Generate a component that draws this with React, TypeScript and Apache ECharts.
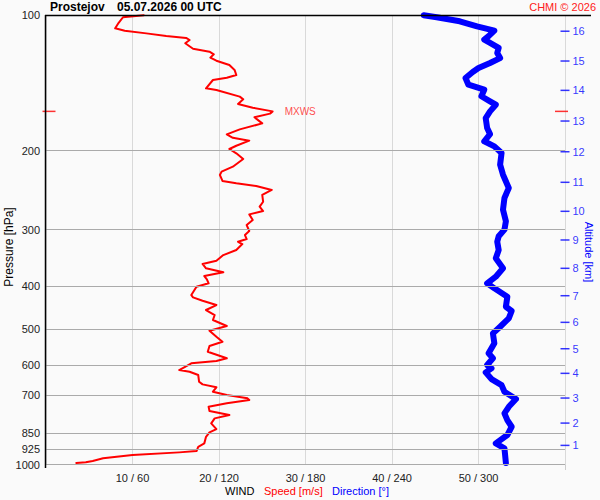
import React, { useEffect, useRef } from 'react';
import * as echarts from 'echarts';

const FONT = "'Liberation Sans', Arial, Helvetica, sans-serif";

// Pressure levels with grid lines and labels [hPa]
const pressureLevels = [100, 200, 300, 400, 500, 600, 700, 850, 925, 1000];

// Right axis: altitude ticks [km] and the pressure [hPa] where they sit
const altitudeKm = [1, 2, 3, 4, 5, 6, 7, 8, 9, 10, 11, 12, 13, 14, 15, 16];
const altitudePressure = [905.8, 808.0, 710.7, 626.2, 552.0, 482.2, 420.7, 365.6, 316.2, 273.0, 235.3, 201.2, 171.9, 146.9, 126.4, 108.5];

// Wind speed profile: [pressure hPa, speed m/s]
const windSpeedProfile: [number, number][] = [
  [100, 11.3], [101.0, 8.9], [103.9, 8.4], [106.9, 8.0], [108.2, 9.1], [109.7, 11.6], [111.2, 13.9],
  [112.3, 16.2], [113.5, 16.6], [115.4, 16.1], [118.7, 17.0], [120.5, 18.9], [122.1, 19.4], [124.2, 19.0],
  [126.2, 19.7], [129.0, 21.2], [132.3, 21.8], [135.8, 22.0], [137.7, 20.9], [139.3, 19.3], [145.4, 18.5],
  [146.6, 19.7], [151.7, 22.4], [153.8, 22.8], [157.5, 22.2], [160.6, 23.9], [163.6, 26.2], [165.5, 25.9],
  [168.6, 24.1], [174.0, 25.0], [179.4, 22.4], [184.1, 20.9], [187.3, 21.6], [190.1, 23.5], [195.1, 22.0],
  [198.4, 21.2], [202.8, 22.0], [208.8, 22.8], [217.2, 21.6], [222.8, 20.3], [226.6, 20.1], [233.7, 20.4],
  [236.5, 22.0], [239.8, 24.3], [244.7, 26.1], [251.1, 25.0], [259.9, 25.1], [266.6, 24.7], [272.6, 25.1],
  [277.3, 23.5], [285.5, 23.9], [292.9, 23.2], [302.0, 23.5], [308.3, 23.0], [314.7, 23.2], [319.1, 22.2],
  [322.9, 22.7], [332.9, 22.0], [341.6, 20.5], [351.6, 19.7], [357.6, 18.1], [365.6, 18.5], [373.2, 20.5],
  [380.3, 18.3], [386.8, 18.6], [394.8, 18.8], [401.8, 17.4], [419.3, 16.8], [424.2, 17.0], [431.7, 18.1],
  [441.3, 19.7], [452.7, 18.5], [464.5, 19.5], [476.5, 19.3], [491.4, 20.9], [503.4, 18.9], [519.1, 19.7],
  [532.6, 20.4], [544.4, 18.9], [560.5, 18.7], [579.8, 20.9], [587.9, 19.7], [594.9, 16.8], [615.7, 15.4],
  [621.1, 16.6], [631.7, 17.6], [653.8, 17.7], [662.6, 18.1], [672.8, 19.7], [688.1, 19.3], [699.9, 20.9],
  [711.8, 23.3], [718.1, 23.5], [730.3, 20.9], [743.2, 18.8], [759.7, 18.9], [775.4, 21.2], [788.7, 19.5],
  [809.2, 19.1], [833.2, 19.7], [847.4, 18.9], [866.7, 18.5], [896.5, 18.3], [912.3, 17.6], [932.6, 17.4],
  [938.8, 15.4], [951.9, 10.0], [967.9, 6.6], [981.2, 5.4], [987.8, 4.6], [991.3, 3.5],
];

// Wind direction profile: [pressure hPa, direction deg]
const windDirectionProfile: [number, number][] = [
  [100, 262], [101.0, 271], [103.1, 287], [105.8, 299], [108.2, 311], [111.3, 307], [113.3, 304],
  [115.2, 308], [118.2, 314], [121.3, 313], [124.5, 315], [127.7, 308], [131.0, 300], [133.7, 296],
  [137.9, 291], [142.7, 293], [146.4, 304], [151.4, 302], [155.4, 308], [158.1, 312], [163.6, 308],
  [169.3, 305], [178.2, 306], [183.8, 308], [190.7, 304], [195.7, 311], [202.5, 316], [215.0, 315],
  [226.3, 317], [242.3, 321], [255.0, 318], [270.8, 317], [287.3, 319], [299.9, 318], [310.3, 314],
  [319.1, 313], [332.9, 314], [347.3, 312], [365.6, 317], [381.7, 312], [394.8, 306], [405.1, 311],
  [422.9, 320], [445.2, 319], [455.0, 323], [472.4, 321], [493.2, 315], [510.2, 310], [537.0, 311],
  [565.1, 307], [579.8, 310], [600.1, 306], [610.4, 309], [623.0, 305], [644.8, 309], [665.0, 316],
  [688.1, 318], [714.3, 326], [743.2, 321], [768.7, 318], [795.6, 320], [823.3, 323], [859.0, 320],
  [896.5, 312], [919.3, 318], [991.0, 319],
];

export default function App() {
  const ref = useRef<HTMLDivElement>(null);

  useEffect(() => {
    if (!ref.current) return;
    const chart = echarts.init(ref.current, null, { renderer: 'svg' });

    let maxIdx = 0;
    windSpeedProfile.forEach((d, i) => {
      if (d[1] > windSpeedProfile[maxIdx][1]) maxIdx = i;
    });
    const [mxP, mxS] = windSpeedProfile[maxIdx];

    const option: any = {
      animation: false,
      backgroundColor: '#fafafa',
      textStyle: { fontFamily: FONT },
      grid: { left: 46, right: 35, top: 15.3, bottom: 35.3, containLabel: false, outerBoundsMode: 'none' },
      xAxis: [
        {
          type: 'value',
          min: 0,
          max: 60,
          interval: 10,
          axisLine: { show: false },
          axisTick: { show: false },
          splitLine: { show: true, lineStyle: { color: '#d9d9d9', width: 1 } },
          axisLabel: {
            fontSize: 11,
            fontFamily: FONT,
            color: '#222',
            margin: 8,
            formatter: (v: number) => (v === 0 || v === 60 ? '' : `${v} / ${v * 6}`),
          },
        },
        { type: 'value', min: 0, max: 360, show: false },
      ],
      yAxis: {
        type: 'log',
        logBase: 10,
        min: 100,
        max: 1000,
        inverse: true,
        axisLine: { show: false },
        axisTick: { show: false },
        axisLabel: { show: false },
        splitLine: { show: false },
      },
      series: [
        {
          name: 'altitude',
          type: 'scatter',
          xAxisIndex: 0,
          yAxisIndex: 0,
          z: 1,
          silent: true,
          symbol: 'rect',
          symbolSize: [9, 1.5],
          itemStyle: { color: '#0000ff' },
          data: altitudePressure.map((p, i) => ({ value: [60, p], name: String(altitudeKm[i]) })),
          label: {
            show: true,
            position: 'right',
            distance: 3,
            formatter: (pr: any) => pr.name,
            color: '#0000ff',
            fontSize: 11,
            fontFamily: FONT,
          },
          markLine: {
            silent: true,
            symbol: ['none', 'none'],
            animation: false,
            lineStyle: { color: '#aaaaaa', width: 1, type: 'solid' },
            label: {
              show: true,
              position: 'start',
              distance: 6,
              fontSize: 11,
              fontFamily: FONT,
              color: '#222',
              formatter: (pr: any) => String(pr.value),
            },
            emphasis: { disabled: true },
            data: pressureLevels.map((p) => ({ yAxis: p })),
          },
        },
        {
          name: 'speed',
          type: 'line',
          xAxisIndex: 0,
          yAxisIndex: 0,
          z: 3,
          clip: false,
          showSymbol: false,
          silent: true,
          lineStyle: { color: '#ff0000', width: 2, join: 'round', cap: 'round' },
          data: windSpeedProfile.map((d) => [d[1], d[0]]),
        },
        {
          name: 'direction',
          type: 'line',
          xAxisIndex: 1,
          yAxisIndex: 0,
          z: 3,
          clip: false,
          showSymbol: false,
          silent: true,
          lineStyle: { color: '#0000ff', width: 6, join: 'round', cap: 'round' },
          data: windDirectionProfile.map((d) => [d[1], d[0]]),
        },
        {
          name: 'mxws',
          type: 'scatter',
          xAxisIndex: 0,
          yAxisIndex: 0,
          z: 4,
          silent: true,
          data: [
            { value: [mxS, mxP], symbolSize: 0, label: { show: true, position: 'right', distance: 12, formatter: 'MXWS', color: '#ff2020', fontSize: 10, fontFamily: FONT } },
            { value: [0, mxP], symbol: 'rect', symbolSize: [13, 1.5], symbolOffset: [3, 0] },
            { value: [60, mxP], symbol: 'rect', symbolSize: [13, 1.5], symbolOffset: [-3.5, 0] },
          ],
          itemStyle: { color: '#ff0000' },
        },
      ],
      graphic: [
        { type: 'line', z: 10, shape: { x1: 45, y1: 15.5, x2: 591, y2: 15.5 }, style: { stroke: '#000', lineWidth: 1.5 } },
        { type: 'line', z: 10, shape: { x1: 45.5, y1: 15, x2: 45.5, y2: 468 }, style: { stroke: '#000', lineWidth: 1.5 } },
        { type: 'line', z: 0, shape: { x1: 565.5, y1: 15, x2: 565.5, y2: 470 }, style: { stroke: '#cccccc', lineWidth: 1 } },
        { type: 'text', x: 50, y: 7, style: { text: 'Prostejov', fill: '#000', fontSize: 12, fontWeight: 'bold', fontFamily: FONT, textAlign: 'left', textVerticalAlign: 'middle', align: 'left', verticalAlign: 'middle' } },
        { type: 'text', x: 117, y: 7, style: { text: '05.07.2026 00 UTC', fill: '#000', fontSize: 12, fontWeight: 'bold', fontFamily: FONT, textAlign: 'left', textVerticalAlign: 'middle', align: 'left', verticalAlign: 'middle' } },
        { type: 'text', x: 596, y: 7, style: { text: 'CHMI © 2026', fill: '#ff2020', fontSize: 11, fontFamily: FONT, textAlign: 'right', textVerticalAlign: 'middle', align: 'right', verticalAlign: 'middle' } },
        { type: 'text', x: 8.5, y: 247, rotation: Math.PI / 2, style: { text: 'Pressure [hPa]', fill: '#000', fontSize: 12, fontFamily: FONT, textAlign: 'center', textVerticalAlign: 'middle', align: 'center', verticalAlign: 'middle' } },
        { type: 'text', x: 589, y: 252, rotation: -Math.PI / 2, style: { text: 'Altitude [km]', fill: '#0000ff', fontSize: 11, fontFamily: FONT, textAlign: 'center', textVerticalAlign: 'middle', align: 'center', verticalAlign: 'middle' } },
        { type: 'text', x: 225, y: 491, style: { text: 'WIND', fill: '#000', fontSize: 11, fontFamily: FONT, textAlign: 'left', textVerticalAlign: 'middle', align: 'left', verticalAlign: 'middle' } },
        { type: 'text', x: 264, y: 491, style: { text: 'Speed [m/s]', fill: '#ff0000', fontSize: 11, fontFamily: FONT, textAlign: 'left', textVerticalAlign: 'middle', align: 'left', verticalAlign: 'middle' } },
        { type: 'text', x: 332, y: 491, style: { text: 'Direction [°]', fill: '#0000ff', fontSize: 11, fontFamily: FONT, textAlign: 'left', textVerticalAlign: 'middle', align: 'left', verticalAlign: 'middle' } },
      ],
    };

    chart.setOption(option);
    return () => chart.dispose();
  }, []);

  return <div ref={ref} style={{ position: 'fixed', left: 0, top: 0, width: 600, height: 500 }} />;
}
